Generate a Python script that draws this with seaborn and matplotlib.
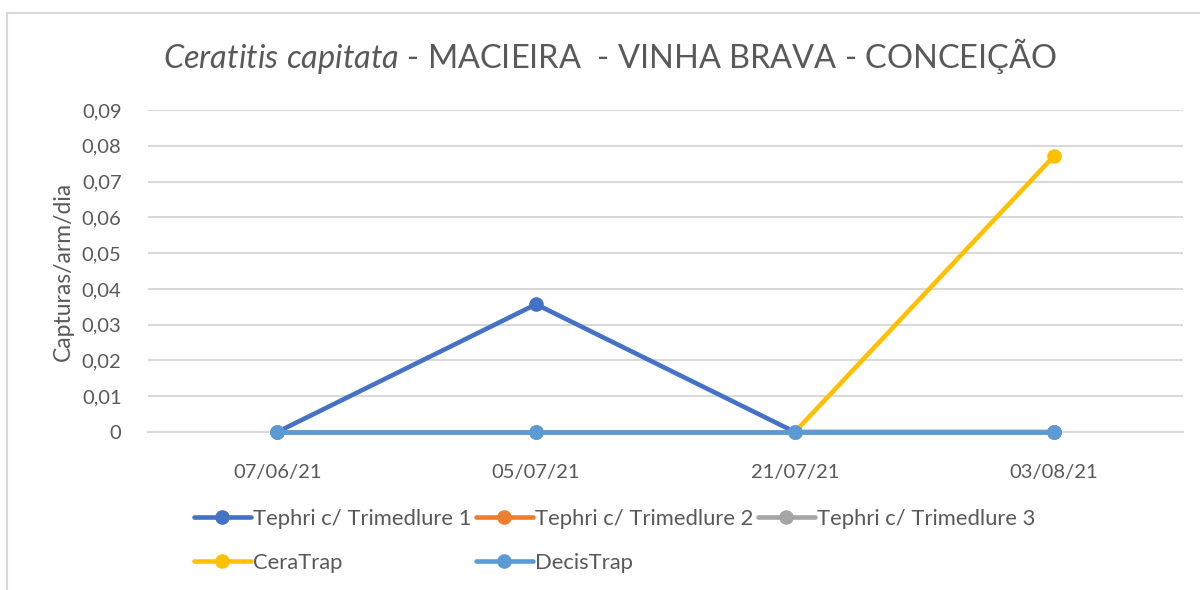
import pandas as pd
import numpy as np
import matplotlib
matplotlib.use("Agg")
import matplotlib.pyplot as plt
import seaborn as sns
from matplotlib.lines import Line2D
from matplotlib.patches import Rectangle
from matplotlib.ticker import FuncFormatter

# --- Data ---
dates = ["07/06/21", "05/07/21", "21/07/21", "03/08/21"]
tephri_1 = [0.0, 0.0357, 0.0, 0.0]
tephri_2 = [0.0, 0.0, 0.0, 0.0]
tephri_3 = [0.0, 0.0, 0.0, 0.0]
ceratrap = [np.nan, np.nan, 0.0, 0.077]
decistrap = [0.0, 0.0, 0.0, 0.0]

series_names = ["Tephri c/ Trimedlure 1", "Tephri c/ Trimedlure 2",
                "Tephri c/ Trimedlure 3", "CeraTrap", "DecisTrap"]
series_values = [tephri_1, tephri_2, tephri_3, ceratrap, decistrap]
colors = ["#4472C4", "#ED7D31", "#A5A5A5", "#FFC000", "#5B9BD5"]

rows = []
for name, vals in zip(series_names, series_values):
    for d, v in zip(dates, vals):
        rows.append({"Data": d, "Valor": v, "Serie": name})
df = pd.DataFrame(rows)

# --- Style ---
sns.set_theme(style="white")
plt.rcParams["font.family"] = ["Lato", "DejaVu Sans"]
plt.rcParams["mathtext.fontset"] = "custom"
plt.rcParams["mathtext.it"] = "Lato:italic"
plt.rcParams["mathtext.rm"] = "Lato"
text_color = "#595959"
grid_color = "#D9D9D9"

fig = plt.figure(figsize=(12, 5.9), dpi=100)
ax = fig.add_axes([0.1233, 0.2678, 0.8625, 0.5458])

for name, color in zip(series_names, colors):
    sub = df[df["Serie"] == name].dropna()
    sns.lineplot(data=sub, x="Data", y="Valor", ax=ax, color=color,
                 linewidth=3.3, marker="o", markersize=10.5,
                 markeredgewidth=0, legend=False)
for line in ax.lines:
    line.set_clip_on(False)
    line.set_zorder(3)

ax.set_xlim(-0.5, len(dates) - 0.5)
ax.set_ylim(0, 0.09)
ax.set_yticks(np.arange(0, 0.091, 0.01))
ax.yaxis.set_major_formatter(FuncFormatter(
    lambda v, p: "0" if abs(v) < 1e-9 else f"{v:.2f}".replace(".", ",")))
ax.grid(axis="y", color=grid_color, linewidth=1.5)
ax.set_axisbelow(True)
for s in ["top", "right", "left"]:
    ax.spines[s].set_visible(False)
ax.spines["bottom"].set_color(grid_color)
ax.spines["bottom"].set_linewidth(1.5)
ax.spines["bottom"].set_zorder(1)
ax.tick_params(axis="both", length=0, labelsize=14.5, colors=text_color)
ax.tick_params(axis="y", pad=19)
ax.tick_params(axis="x", pad=23)
ax.set_xlabel("")
ax.set_ylabel("Capturas/arm/dia", fontsize=16.5, color=text_color, labelpad=6)

# --- Title ---
fig.text(0.508, 0.905,
         r"$\it{Ceratitis\ capitata}$ - MACIEIRA  - VINHA BRAVA - CONCEIÇÃO",
         ha="center", va="center", fontsize=23.4, color=text_color)

# --- Legend ---
handles = [Line2D([0], [0], color=c, linewidth=3.3, marker="o",
                  markersize=10.5, markeredgewidth=0) for c in colors]
order = [0, 3, 1, 4, 2]
leg = fig.legend([handles[i] for i in order], [series_names[i] for i in order],
                 ncol=3, loc="upper left", bbox_to_anchor=(0.154, 0.153),
                 frameon=False, fontsize=15.8, handlelength=2.6,
                 handletextpad=0.1, columnspacing=0.2, labelspacing=1.1,
                 borderaxespad=0)
for t in leg.get_texts():
    t.set_color(text_color)

# --- Chart border ---
fig.patches.append(Rectangle((7 / 1200, -0.1), 1.2, 1 - 13 / 590 + 0.1,
                             transform=fig.transFigure, fill=False,
                             edgecolor=grid_color, linewidth=1.5))

fig.savefig("out.png", dpi=100)
